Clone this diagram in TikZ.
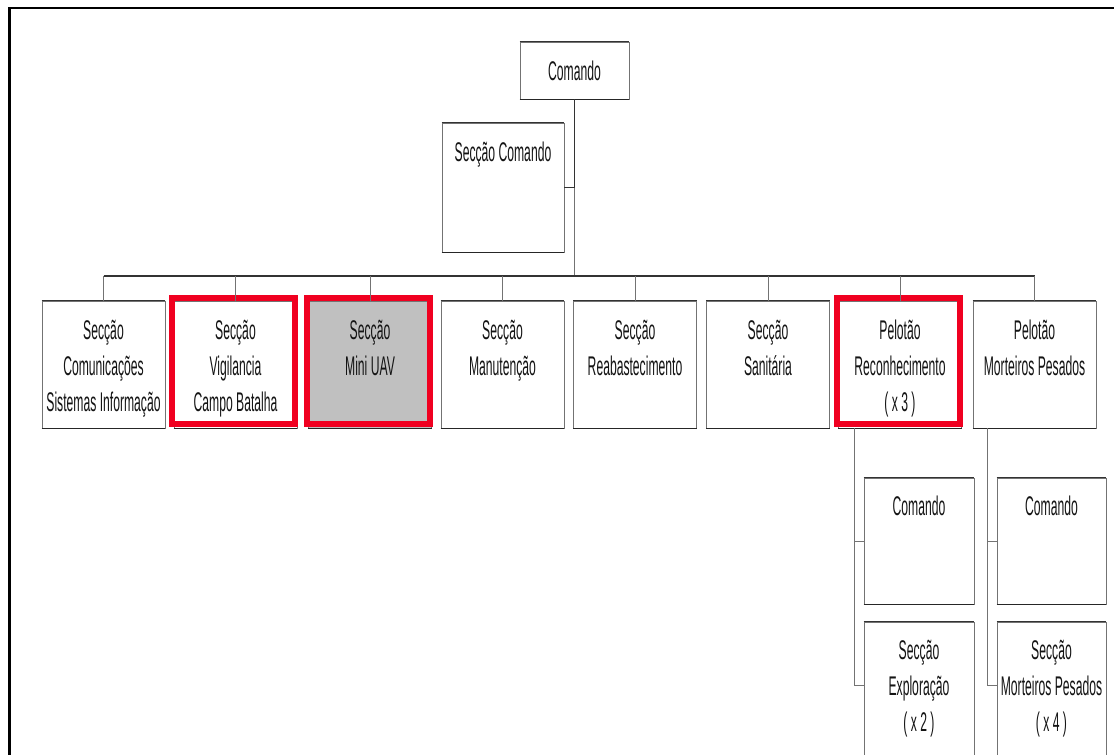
\documentclass[tikz,border=0pt]{standalone}
\usepackage{fontspec}
\setmainfont{Liberation Sans}[FakeStretch=0.45]
\usetikzlibrary{calc,positioning}
\definecolor{hired}{RGB}{240,0,32}
\definecolor{boxgray}{RGB}{192,192,192}
\definecolor{ink}{RGB}{20,20,20}
\tikzset{
  unitbox/.style={draw=black!55, line width=0.9pt, fill=white, inner sep=0pt,
    minimum width=#1, minimum height=127pt},
  unitbox/.default=123pt,
  boxtext/.style={inner sep=0pt, align=center, text=ink,
    font=\fontsize{27}{36}\selectfont},
  conn/.style={draw=black!55, line width=0.9pt},
  busline/.style={draw=black!80, line width=1.3pt},
  highlight/.style={draw=hired, line width=6pt},
}
\begin{document}
\begin{tikzpicture}[x=1pt,y=-1pt]
\useasboundingbox (0,0) rectangle (1114,755);
\clip (0,0) rectangle (1114,755);

% outer frame (only top and left sides fall inside the page)
\draw[line width=2.5pt] (9.3,770) -- (9.3,8) -- (1130,8);

% headquarters
\node[unitbox=109pt, minimum height=57pt] (cmd) at (574.5,70.5) {};
\node[boxtext] (tcmd) at (cmd.center) {Comando};
\node[unitbox=122pt, minimum height=129pt] (sc) at (503,187.5) {};
\node[boxtext, below=19pt of sc.north] (tsc) {Secção Comando};

% first level units
\node[unitbox] (b1) at (103.5,364.5) {};
\node[unitbox] (b2) at (235.5,364.5) {};
\node[unitbox, fill=boxgray] (b3) at (370,364.5) {};
\node[unitbox] (b4) at (502.5,364.5) {};
\node[unitbox] (b5) at (635,364.5) {};
\node[unitbox] (b6) at (768,364.5) {};
\node[unitbox] (b7) at (900,364.5) {};
\node[unitbox] (b8) at (1034.5,364.5) {};

% platoon subunits
\node[unitbox=110pt, minimum height=126pt] (pc1) at (919,541) {};
\node[unitbox=110pt, minimum height=200pt] (pe1) at (919,722) {};
\node[unitbox=109pt, minimum height=126pt] (pc2) at (1051.5,541) {};
\node[unitbox=109pt, minimum height=200pt] (pe2) at (1051.5,722) {};

% darker top and bottom edges of every box
\foreach \n in {cmd,sc,b1,b2,b3,b4,b5,b6,b7,b8,pc1,pe1,pc2,pe2}{
  \draw[black!80, line width=1pt] (\n.north west) -- (\n.north east);
  \draw[black!85, line width=1.6pt] (\n.south west) -- (\n.south east);
}

% highlighted units
\foreach \n in {b2,b3,b7}{
  \draw[highlight] ($(\n.north west)+(-1.5,-3)$) rectangle ($(\n.south east)+(-2,-4)$);
}

% texts
\node[boxtext, below=19pt of b1.north] (t1) {Secção\\Comunicações\\Sistemas Informação};
\node[boxtext, below=19pt of b2.north] (t2) {Secção\\Vigilancia\\Campo Batalha};
\node[boxtext, below=19pt of b3.north] (t3) {Secção\\Mini UAV};
\node[boxtext, below=19pt of b4.north] (t4) {Secção\\Manutenção};
\node[boxtext, below=19pt of b5.north] (t5) {Secção\\Reabastecimento};
\node[boxtext, below=19pt of b6.north] (t6) {Secção\\Sanitária};
\node[boxtext, below=19pt of b7.north] (t7) {Pelotão\\Reconhecimento\\( x 3 )};
\node[boxtext, below=19pt of b8.north] (t8) {Pelotão\\Morteiros Pesados};
\node[boxtext, below=18pt of pc1.north] (tp1) {Comando};
\node[boxtext, below=18pt of pe1.north] (tp2) {Secção\\Exploração\\( x 2 )};
\node[boxtext, below=18pt of pc2.north] (tp3) {Comando};
\node[boxtext, below=18pt of pe2.north] (tp4) {Secção\\Morteiros Pesados\\( x 4 )};

% connectors
\coordinate (bus) at (574.5,276);
\coordinate (scj) at (cmd.south |- sc.east);
\draw[busline] (cmd.south) -- (scj) -- (sc.east);
\draw[conn] (scj) -- (bus);
\draw[busline] (b1.north |- bus) -- (b8.north |- bus);
\foreach \n in {b1,b2,b3,b4,b5,b6,b7,b8}{
  \draw[conn] (\n.north |- bus) -- (\n.north);
}

\coordinate (v7) at ($(pc1.west)+(-9,0)$);
\coordinate (s7) at ($(pe1.north west)+(0,64)$);
\draw[conn] (v7 |- b7.south) -- (v7 |- s7) -- (s7);
\draw[conn] (v7) -- (pc1.west);

\coordinate (v8) at ($(pc2.west)+(-9,0)$);
\coordinate (s8) at ($(pe2.north west)+(0,64)$);
\draw[conn] (v8 |- b8.south) -- (v8 |- s8) -- (s8);
\draw[conn] (v8) -- (pc2.west);
\end{tikzpicture}
\end{document}
